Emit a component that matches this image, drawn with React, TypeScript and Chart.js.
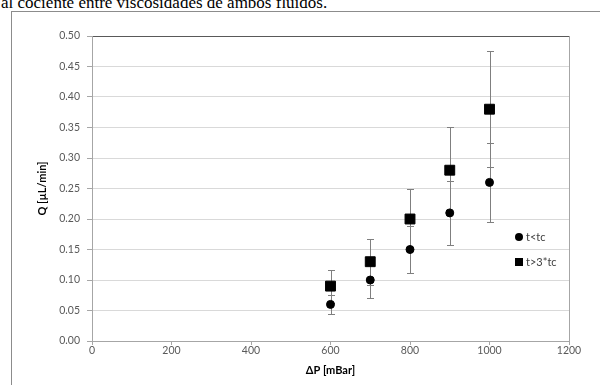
import React, { useEffect, useRef } from "react";
import { Chart, registerables } from "chart.js";

Chart.register(...registerables);

const pressures = [600, 700, 800, 900, 1000];
const qShort = [0.06, 0.1, 0.15, 0.21, 0.26];
const qShortErr = [0.016, 0.03, 0.038, 0.052, 0.065];
const qLong = [0.09, 0.13, 0.2, 0.28, 0.38];
const qLongErr = [0.027, 0.038, 0.05, 0.07, 0.095];
const seriesLabels = ["t<tc", "t>3*tc"];
const xTitle = "ΔP [mBar]";
const yTitle = "Q [µL/min]";
const captionText = "al cociente entre viscosidades de ambos fluidos.";

const FONT = "Lato";

const errorBarPlugin = {
  id: "errorBars",
  beforeDatasetsDraw(chart: any) {
    const ctx = chart.ctx;
    const xs = chart.scales.x;
    const ys = chart.scales.y;
    chart.data.datasets.forEach((ds: any) => {
      const errs: number[] = ds.errors;
      ds.data.forEach((pt: any, i: number) => {
        const x = Math.round(xs.getPixelForValue(pt.x)) + 0.5;
        const yTop = Math.round(ys.getPixelForValue(pt.y + errs[i])) + 0.5;
        const yBot = Math.round(ys.getPixelForValue(pt.y - errs[i])) + 0.5;
        ctx.save();
        ctx.strokeStyle = "#7f7f7f";
        ctx.lineWidth = 1;
        ctx.beginPath();
        ctx.moveTo(x, yTop);
        ctx.lineTo(x, yBot);
        ctx.moveTo(x - 3.5, yTop);
        ctx.lineTo(x + 3.5, yTop);
        ctx.moveTo(x - 3.5, yBot);
        ctx.lineTo(x + 3.5, yBot);
        ctx.stroke();
        ctx.restore();
      });
    });
  },
};

const legendPlugin = {
  id: "customLegend",
  afterDraw(chart: any) {
    const ctx = chart.ctx;
    const area = chart.chartArea;
    const mx = area.right - 50;
    const tx = area.right - 43;
    const y1 = 237;
    const y2 = 262;
    ctx.save();
    ctx.fillStyle = "#000";
    ctx.beginPath();
    ctx.arc(mx, y1, 4, 0, Math.PI * 2);
    ctx.fill();
    ctx.fillRect(mx - 4, y2 - 4, 8, 8);
    ctx.fillStyle = "#404040";
    ctx.font = `11px ${FONT}`;
    ctx.textAlign = "left";
    ctx.textBaseline = "middle";
    ctx.fillText(chart.data.datasets[0].label, tx, y1);
    ctx.fillText(chart.data.datasets[1].label, tx, y2);
    ctx.restore();
  },
};

export default function App() {
  const canvasRef = useRef<HTMLCanvasElement | null>(null);

  useEffect(() => {
    const canvas = canvasRef.current;
    if (!canvas) return;
    const chart = new Chart(canvas, {
      type: "scatter",
      data: {
        datasets: [
          {
            label: seriesLabels[0],
            data: pressures.map((p, i) => ({ x: p, y: qShort[i] })),
            errors: qShortErr,
            pointStyle: "circle",
            pointRadius: 4,
            pointBackgroundColor: "#000",
            pointBorderColor: "#000",
            pointBorderWidth: 1,
            showLine: false,
          } as any,
          {
            label: seriesLabels[1],
            data: pressures.map((p, i) => ({ x: p, y: qLong[i] })),
            errors: qLongErr,
            pointStyle: "rect",
            pointRadius: 7,
            pointBackgroundColor: "#000",
            pointBorderColor: "#000",
            pointBorderWidth: 1,
            showLine: false,
          } as any,
        ],
      },
      options: {
        animation: false,
        responsive: false,
        maintainAspectRatio: false,
        devicePixelRatio: 1,
        layout: { padding: { top: 36, right: 31, left: 0, bottom: 0 } },
        plugins: {
          legend: { display: false },
          tooltip: { enabled: false },
        },
        scales: {
          x: {
            type: "linear",
            min: 0,
            max: 1200,
            ticks: {
              stepSize: 200,
              color: "#595959",
              font: { family: FONT, size: 10.5 },
              padding: -1,
              maxRotation: 0,
              callback: (v: any) => String(Math.round(Number(v))),
            },
            grid: {
              drawOnChartArea: true,
              color: (c: any) =>
                c.tick && c.tick.value === 1200 ? "#a6a6a6" : "rgba(0,0,0,0)",
              tickColor: "#a6a6a6",
              tickLength: 4,
            },
            border: { display: true, color: "#a6a6a6" },
            title: {
              display: true,
              text: xTitle,
              color: "#000",
              font: { family: FONT, size: 11, weight: "bold" },
              padding: { top: 0, bottom: 7.5 },
            },
            afterFit: (s: any) => {
              s.height = 44;
            },
          },
          y: {
            type: "linear",
            min: 0,
            max: 0.5,
            ticks: {
              stepSize: 0.05,
              color: "#595959",
              font: { family: FONT, size: 10.5 },
              padding: 7,
              callback: (v: any) => Number(v).toFixed(2),
            },
            grid: {
              color: (c: any) =>
                c.tick && Math.abs(c.tick.value - 0.5) < 1e-9 ? "#595959" : "#d9d9d9",
              tickColor: "#a6a6a6",
              tickLength: 5,
            },
            border: { display: true, color: "#a6a6a6" },
            title: {
              display: true,
              text: yTitle,
              color: "#000",
              font: { family: FONT, size: 11, weight: "bold" },
              padding: { top: 36, bottom: 0 },
            },
            afterFit: (s: any) => {
              s.width = 92;
            },
          },
        },
      } as any,
      plugins: [errorBarPlugin, legendPlugin],
    });
    return () => chart.destroy();
  }, []);

  return (
    <div
      style={{
        position: "fixed",
        left: 0,
        top: 0,
        width: 600,
        height: 385,
        overflow: "hidden",
        background: "#fff",
      }}
    >
      <div
        style={{
          position: "absolute",
          left: 1,
          top: -6,
          fontFamily: "'Liberation Serif', serif",
          fontSize: 17,
          lineHeight: "17px",
          whiteSpace: "nowrap",
          color: "#000",
        }}
      >
        {captionText}
      </div>
      <div
        style={{
          position: "absolute",
          left: 11,
          top: 11,
          width: 620,
          height: 420,
          border: "1px solid #8c8c8c",
          boxSizing: "border-box",
        }}
      />
      <canvas
        ref={canvasRef}
        width={600}
        height={385}
        style={{ position: "absolute", left: 0, top: 0, width: 600, height: 385 }}
      />
    </div>
  );
}
